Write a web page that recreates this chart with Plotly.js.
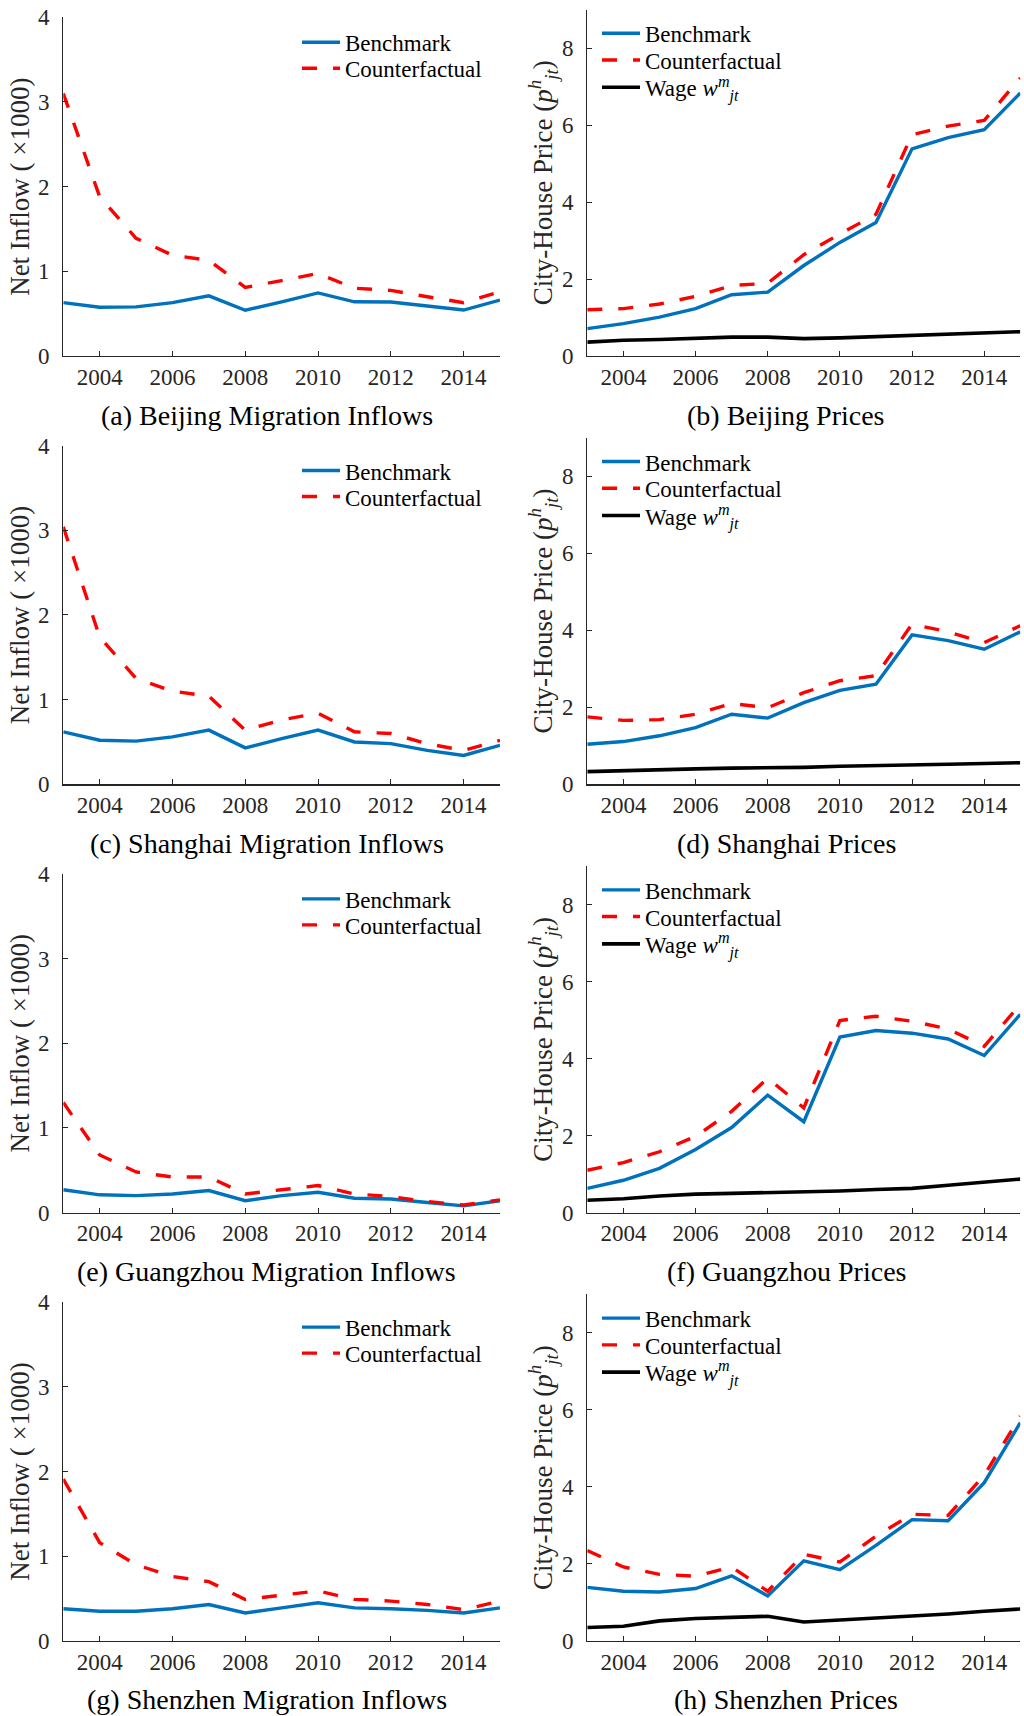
<!DOCTYPE html>
<html>
<head>
<meta charset="utf-8">
<script src="https://cdn.plot.ly/plotly-3.0.1.min.js"></script>
<style>html,body{margin:0;padding:0;background:#fff;}#chart{width:1024px;height:1716px;}</style>
</head>
<body>
<div id="chart"></div>
<script>
// ---------------- DATA ----------------
const years = [2003, 2004, 2005, 2006, 2007, 2008, 2009, 2010, 2011, 2012, 2013, 2014, 2015];
const xTickVals = [2004, 2006, 2008, 2010, 2012, 2014];
const inflowTickVals = [0, 1, 2, 3, 4];
const priceTickVals = [0, 2, 4, 6, 8];

const seriesNames = ['Benchmark', 'Counterfactual', 'Wage <i>w</i><sup><i>m</i></sup><sub><i>jt</i></sub>'];
const captions = [
  '(a) Beijing Migration Inflows', '(b) Beijing Prices',
  '(c) Shanghai Migration Inflows', '(d) Shanghai Prices',
  '(e) Guangzhou Migration Inflows', '(f) Guangzhou Prices',
  '(g) Shenzhen Migration Inflows', '(h) Shenzhen Prices'
];
const inflowTitle = 'Net Inflow (\u2005×1000)';
const priceTitle = 'City-House Price (<i>p</i><sup><i>h</i></sup><sub><i>jt</i></sub>)';

// Beijing
const bjInflowBench = [0.63, 0.575, 0.58, 0.63, 0.71, 0.54, 0.64, 0.745, 0.64, 0.638, 0.59, 0.543, 0.66];
const bjInflowCf    = [3.10, 1.88, 1.39, 1.19, 1.13, 0.81, 0.89, 0.975, 0.80, 0.775, 0.70, 0.63, 0.76];
const bjPriceBench  = [0.71, 0.84, 1.01, 1.23, 1.59, 1.66, 2.35, 2.95, 3.47, 5.38, 5.67, 5.88, 6.83];
const bjPriceCf     = [1.20, 1.23, 1.35, 1.55, 1.83, 1.89, 2.63, 3.17, 3.68, 5.75, 5.97, 6.12, 7.22];
const bjWage        = [0.36, 0.41, 0.43, 0.47, 0.49, 0.49, 0.45, 0.47, 0.50, 0.53, 0.57, 0.60, 0.63];
// Shanghai
const shInflowBench = [0.62, 0.52, 0.51, 0.56, 0.64, 0.43, 0.54, 0.64, 0.50, 0.48, 0.40, 0.34, 0.46];
const shInflowCf    = [3.04, 1.74, 1.25, 1.10, 1.04, 0.64, 0.76, 0.84, 0.62, 0.60, 0.48, 0.40, 0.52];
const shPriceBench  = [1.04, 1.11, 1.26, 1.47, 1.82, 1.72, 2.12, 2.44, 2.60, 3.88, 3.73, 3.51, 3.96];
const shPriceCf     = [1.75, 1.66, 1.68, 1.82, 2.10, 1.99, 2.38, 2.69, 2.82, 4.16, 3.96, 3.68, 4.12];
const shWage        = [0.33, 0.36, 0.38, 0.40, 0.42, 0.42, 0.44, 0.47, 0.48, 0.49, 0.52, 0.54, 0.56];
// Guangzhou
const gzInflowBench = [0.27, 0.21, 0.20, 0.22, 0.26, 0.14, 0.20, 0.24, 0.17, 0.16, 0.12, 0.08, 0.14];
const gzInflowCf    = [1.30, 0.68, 0.48, 0.42, 0.42, 0.22, 0.27, 0.32, 0.22, 0.19, 0.13, 0.09, 0.15];
const gzPriceBench  = [0.63, 0.84, 1.15, 1.64, 2.21, 3.05, 2.36, 4.56, 4.73, 4.66, 4.51, 4.08, 5.15];
const gzPriceCf     = [1.10, 1.30, 1.58, 1.98, 2.63, 3.49, 2.72, 4.99, 5.10, 4.97, 4.77, 4.32, 5.41];
const gzWage        = [0.32, 0.36, 0.43, 0.48, 0.50, 0.52, 0.52, 0.56, 0.60, 0.63, 0.71, 0.80, 0.87];
// Shenzhen
const szInflowBench = [0.38, 0.35, 0.35, 0.38, 0.43, 0.33, 0.39, 0.45, 0.39, 0.38, 0.36, 0.33, 0.39];
const szInflowCf    = [1.91, 1.16, 0.90, 0.76, 0.70, 0.49, 0.54, 0.59, 0.49, 0.47, 0.43, 0.37, 0.47];
const szPriceBench  = [1.39, 1.29, 1.27, 1.36, 1.69, 1.17, 2.08, 1.85, 2.48, 3.15, 3.12, 4.11, 5.67];
const szPriceCf     = [2.35, 1.92, 1.73, 1.68, 1.92, 1.29, 2.25, 2.05, 2.72, 3.29, 3.26, 4.30, 5.84];
const szWage        = [0.35, 0.38, 0.52, 0.58, 0.61, 0.64, 0.49, 0.54, 0.58, 0.64, 0.70, 0.77, 0.83];

const panels = [
  [bjInflowBench, bjInflowCf], [bjPriceBench, bjPriceCf, bjWage],
  [shInflowBench, shInflowCf], [shPriceBench, shPriceCf, shWage],
  [gzInflowBench, gzInflowCf], [gzPriceBench, gzPriceCf, gzWage],
  [szInflowBench, szInflowCf], [szPriceBench, szPriceCf, szWage]
];

// ---------------- STYLE / LAYOUT ----------------
const W = 1024, H = 1716;
const FONT = 'Liberation Serif';
const AX = '#262626';
const lineStyles = [
  {color: '#0072BD', width: 3.4},
  {color: '#FF0000', width: 3.4, dash: '15px,16px'},
  {color: '#000000', width: 3.6}
];
const ROW = 428.3;
const px = v => v / W;
const py = v => 1 - v / H;

const traces = [];
const layout = {
  width: W, height: H,
  margin: {l: 0, r: 0, t: 0, b: 0},
  paper_bgcolor: '#fff', plot_bgcolor: '#fff',
  font: {family: FONT, size: 23, color: AX},
  showlegend: true,
  annotations: []
};

let legendCount = 0;
function newLegend(xPx, yPx) {
  legendCount += 1;
  const key = legendCount === 1 ? 'legend' : 'legend' + legendCount;
  layout[key] = {
    x: px(xPx), y: py(yPx), xanchor: 'left', yanchor: 'middle',
    bgcolor: 'rgba(0,0,0,0)', borderwidth: 0,
    font: {family: FONT, size: 23, color: '#000'},
    itemwidth: 38, itemclick: false, itemdoubleclick: false
  };
  return key;
}

panels.forEach((series, i) => {
  const row = Math.floor(i / 2), col = i % 2;
  const off = row * ROW;
  const n = i + 1;
  const xk = 'xaxis' + (n === 1 ? '' : n), yk = 'yaxis' + (n === 1 ? '' : n);
  const xr = 'x' + (n === 1 ? '' : n), yr = 'y' + (n === 1 ? '' : n);
  const isPrice = col === 1;
  const xDom = isPrice ? [587.3, 1020.3] : [63.3, 500];
  const yTop = isPrice ? 9.5 : 17.3;
  const yBot = 356;
  layout[xk] = {
    domain: [px(xDom[0]), px(xDom[1])], anchor: yr,
    range: [2003, 2015], tickvals: xTickVals, ticktext: xTickVals.map(String),
    ticks: 'inside', ticklen: 5, tickwidth: 1, tickcolor: AX,
    showline: true, linecolor: AX, linewidth: 1.2, mirror: false,
    showgrid: false, zeroline: false, fixedrange: true,
    tickfont: {family: FONT, size: 23, color: AX}, ticklabelstandoff: 0
  };
  layout[yk] = {
    domain: [py(yBot + off), py(yTop + off)], anchor: xr,
    range: isPrice ? [0, 9] : [0, 4],
    tickvals: isPrice ? priceTickVals : inflowTickVals,
    ticktext: (isPrice ? priceTickVals : inflowTickVals).map(String),
    ticks: 'inside', ticklen: 5, tickwidth: 1, tickcolor: AX,
    showline: true, linecolor: AX, linewidth: 1.2, mirror: false,
    showgrid: false, zeroline: false, fixedrange: true,
    tickfont: {family: FONT, size: 23, color: AX}, ticklabelstandoff: 8,
    title: {text: isPrice ? priceTitle : inflowTitle, font: {family: FONT, size: 27, color: AX}, standoff: 0}
  };
  const legX = isPrice ? 597 : 297;
  const legYs = isPrice ? [33.3, 60, 87.3] : [42.3, 68.3];
  series.forEach((vals, s) => {
    const lg = newLegend(legX, legYs[s] + off);
    traces.push({
      type: 'scatter', mode: 'lines', x: years, y: vals,
      xaxis: xr, yaxis: yr, name: seriesNames[s], legend: lg,
      showlegend: true, line: Object.assign({}, lineStyles[s]), hoverinfo: 'skip'
    });
  });
  layout.annotations.push({
    xref: 'paper', yref: 'paper', x: px(isPrice ? 786 : 266.7), y: py(415 + off),
    xanchor: 'center', yanchor: 'middle', showarrow: false,
    text: captions[i], font: {family: FONT, size: 28, color: '#000'}
  });
});

Plotly.newPlot('chart', traces, layout, {staticPlot: true, displayModeBar: false});
</script>
</body>
</html>
